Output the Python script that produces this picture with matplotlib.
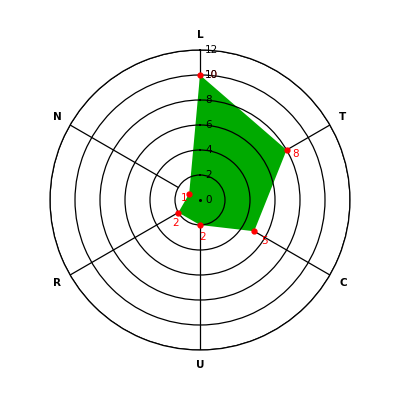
import numpy as np
import matplotlib
matplotlib.use("Agg")
import matplotlib.pyplot as plt

categories = ["L", "T", "C", "U", "R", "N"]
values = [10, 8, 5, 2, 2, 1]
ring_ticks = [0, 2, 4, 6, 8, 10, 12]
r_max = 12

# pixel offsets of the red value labels from their points
label_offsets = [(5, 0), (6, -4), (7, -10), (-1, -12), (-6, -10), (-8, -4)]

angles = np.deg2rad(np.arange(len(categories)) * 360.0 / len(categories))

fig = plt.figure(figsize=(4, 4), dpi=100)
ax = fig.add_axes([0.125, 0.125, 0.75, 0.75], projection="polar")
ax.set_theta_zero_location("N")
ax.set_theta_direction(-1)
ax.set_ylim(0, r_max)
ax.set_xticks([])
ax.set_yticks(ring_ticks[1:])
ax.set_yticklabels([])
ax.xaxis.grid(False)
ax.yaxis.grid(True, color="black", linewidth=0.9, linestyle="-")
ax.set_axisbelow(False)
ax.spines["polar"].set_color("black")
ax.spines["polar"].set_linewidth(0.9)

# spokes, from the first ring outwards
for a in angles:
    ax.plot([a, a], [ring_ticks[1], r_max], color="black", linewidth=0.9, zorder=0.8)

# filled polygon
th = np.append(angles, angles[0])
vv = np.append(values, values[0])
ax.fill(th, vv, color="#00aa00", linewidth=0, zorder=1)

# red points and value labels
ax.plot(angles, values, "o", color="red", markersize=3.5, zorder=3)
for a, v, off in zip(angles, values, label_offsets):
    ax.annotate(str(v), (a, v), xytext=off, textcoords="offset pixels",
                color="red", fontsize=7.5, ha="left", va="center", zorder=4)

# ring labels along the first axis
for t in ring_ticks:
    ax.annotate(str(t), (0, t), xytext=(5, 0), textcoords="offset pixels",
                color="black", fontsize=7.5, ha="left", va="center", zorder=4)
ax.plot([0], [0], "o", color="black", markersize=1.2, zorder=4)

# category labels
for a, c in zip(angles, categories):
    ax.text(a, r_max * 1.1, c, fontsize=7.5, fontweight="bold",
            ha="center", va="center")

fig.savefig("out.png", dpi=100)
